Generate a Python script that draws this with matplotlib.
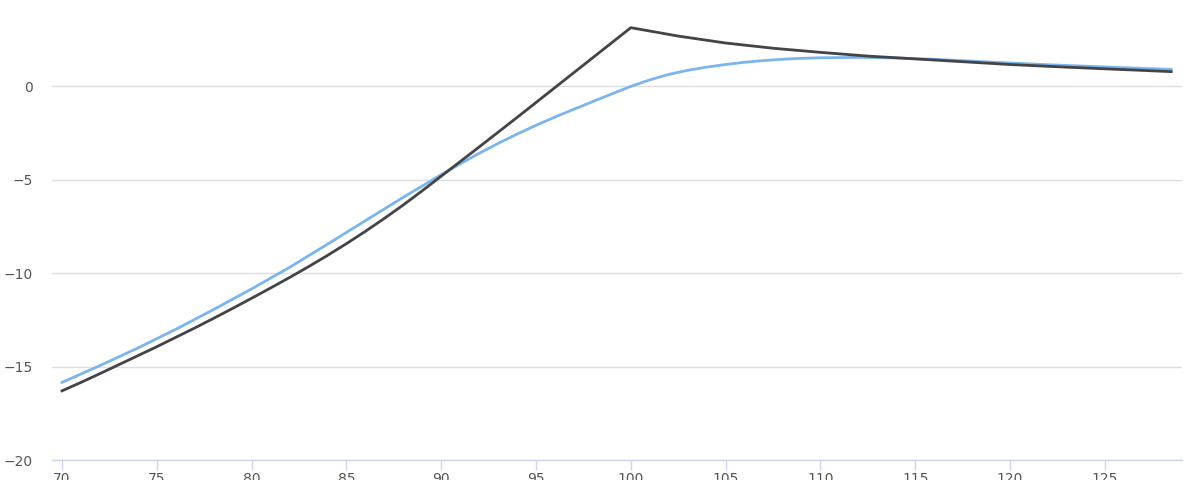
import matplotlib
matplotlib.use('Agg')
import matplotlib.pyplot as plt

# price levels and the two curves
x_dark = [70, 71, 72, 73, 74, 75, 76, 77, 78, 79, 80, 81, 82, 83, 84, 85, 86, 87,
          88, 89, 90, 91, 92, 93, 94, 95, 96, 97, 98, 99, 100,
          102.5, 105, 107.5, 110, 112.5, 115, 117.5, 120, 122.5, 125, 128.5]
y_dark = [-16.3, -15.85, -15.38, -14.9, -14.42, -13.94, -13.44, -12.94, -12.42,
          -11.89, -11.35, -10.8, -10.24, -9.66, -9.06, -8.43, -7.77, -7.08,
          -6.36, -5.6, -4.82, -4.04, -3.26, -2.47, -1.68, -0.88, -0.08, 0.72,
          1.52, 2.32, 3.12,
          2.67, 2.3, 2.02, 1.8, 1.6, 1.45, 1.3, 1.15, 1.03, 0.92, 0.77]

x_blue = [70, 72, 74, 76, 78, 80, 82, 84, 86, 88, 90, 91, 92, 93, 94, 95, 96, 97,
          98, 99, 100, 101, 102, 103, 104, 105, 106, 107, 108, 109, 110, 112,
          114, 116, 118, 120, 122, 124, 126, 128.5]
y_blue = [-15.85, -14.95, -14.01, -13.01, -11.95, -10.85, -9.7, -8.46, -7.2,
          -5.95, -4.74, -4.16, -3.6, -3.07, -2.57, -2.1, -1.66, -1.24, -0.83,
          -0.42, -0.02, 0.33, 0.62, 0.84, 1.01, 1.15, 1.27, 1.36, 1.43, 1.48, 1.51,
          1.53, 1.5, 1.43, 1.33, 1.23, 1.14, 1.06, 0.98, 0.89]

x_ticks = [70, 75, 80, 85, 90, 95, 100, 105, 110, 115, 120, 125]
y_ticks = [-20, -15, -10, -5, 0]

fig = plt.figure(figsize=(12, 4.8), dpi=100)
ax = fig.add_axes([52 / 1200, 20 / 480, 1130 / 1200, 460 / 480])

ax.plot(x_blue, y_blue, color='#7cb5ec', lw=2, zorder=3)
ax.plot(x_dark, y_dark, color='#434348', lw=2, zorder=4)

ax.set_xlim(69.47, 129.07)
ax.set_ylim(-20, 4.6)
ax.set_xticks(x_ticks)
ax.set_yticks(y_ticks)

ax.grid(axis='y', color='#dedede', lw=1)
ax.set_axisbelow(True)
for s in ['top', 'right', 'left']:
    ax.spines[s].set_visible(False)
ax.spines['bottom'].set_color('#ccd6eb')
ax.spines['bottom'].set_linewidth(1)
ax.spines['bottom'].set_zorder(5)

ax.tick_params(axis='x', length=7.2, width=1, color='#ccd6eb', pad=1.5,
               labelsize=10, labelcolor='#555555')
ax.tick_params(axis='y', length=0, pad=14, labelsize=10, labelcolor='#555555')

fig.savefig('out.png', dpi=100)
